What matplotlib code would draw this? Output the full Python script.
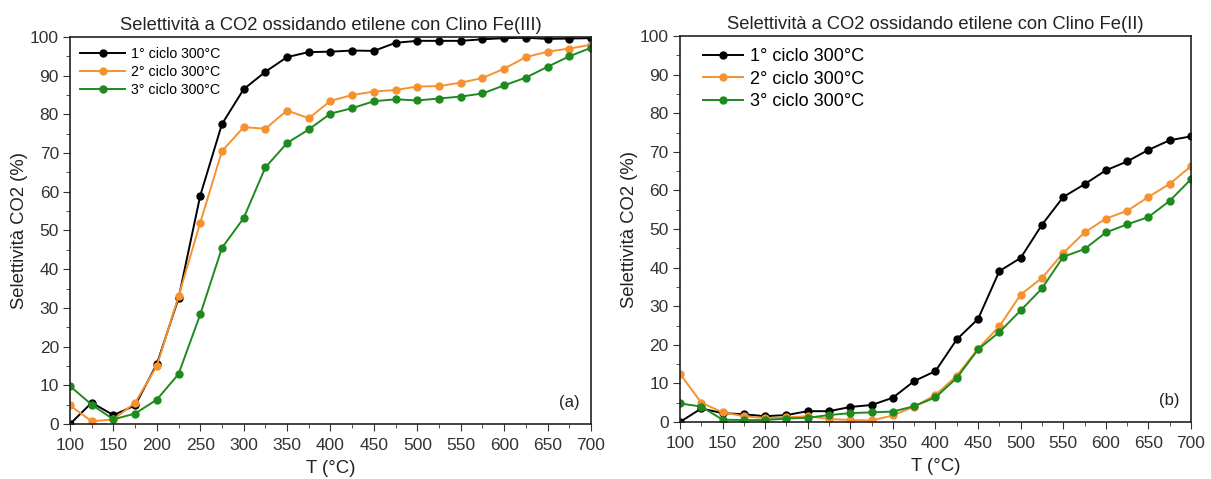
import numpy as np
import matplotlib
matplotlib.use("Agg")
import matplotlib.pyplot as plt
from matplotlib.ticker import MultipleLocator

plt.rcParams['font.family'] = ['Liberation Sans', 'DejaVu Sans']

# temperatures (°C)
temp = list(range(100, 701, 25))

# panel (a) - Clino Fe(III)
a_ciclo1 = [0, 5.5, 2.3, 4.8, 15.5, 32.5, 59, 77.5, 86.5, 91, 94.8, 96.1, 96.2,
            96.5, 96.4, 98.5, 99, 99, 99, 99.4, 99.7, 99.8, 99.5, 99.6, 99.7]
a_ciclo2 = [4.8, 0.7, 1.2, 5.5, 15, 33, 52, 70.5, 76.7, 76.3, 81, 79, 83.5,
            85, 85.9, 86.3, 87.2, 87.3, 88.2, 89.4, 91.8, 94.8, 96.2, 97, 98]
a_ciclo3 = [9.8, 5, 1.2, 2.7, 6.3, 12.9, 28.3, 45.5, 53.2, 66.3, 72.6, 76.1, 80.2,
            81.6, 83.4, 83.9, 83.6, 84.1, 84.6, 85.4, 87.5, 89.5, 92.3, 95, 97.2]

# panel (b) - Clino Fe(II)
b_ciclo1 = [0, 3.5, 2.3, 2.0, 1.5, 1.8, 2.8, 2.8, 3.9, 4.4, 6.3, 10.6, 13.2,
            21.4, 26.7, 39.1, 42.5, 51.1, 58.3, 61.6, 65.2, 67.5, 70.5, 73, 74]
b_ciclo2 = [12.5, 5, 2.5, 1.5, 1.0, 1.2, 1.5, 0.8, 0.5, 0.4, 1.7, 4, 7,
            12, 19, 24.8, 33, 37.3, 43.8, 49.1, 52.7, 54.7, 58.3, 61.7, 66.3]
b_ciclo3 = [4.8, 4, 0.6, 0.5, 0.5, 0.9, 1.1, 1.8, 2.3, 2.5, 2.7, 4.1, 6.4,
            11.4, 18.8, 23.3, 28.9, 34.6, 42.8, 44.8, 49.1, 51.2, 53.1, 57.3, 62.9]

labels = ["1° ciclo 300°C", "2° ciclo 300°C", "3° ciclo 300°C"]
colors = ["black", "#F5922F", "#1E8A1E"]

fig = plt.figure(figsize=(12.11, 4.79), dpi=100)
ax1 = fig.add_axes([0.0578, 0.1148, 0.4302, 0.808])
ax2 = fig.add_axes([0.5615, 0.119, 0.422, 0.8058])

# (axes, series, title, tag, legend font size, handle length, label spacing, pad, anchor)
panels = [
    (ax1, [a_ciclo1, a_ciclo2, a_ciclo3], "Selettività a CO2 ossidando etilene con Clino Fe(III)", "(a)",
     10.2, 3.2, 0.28, 0.3, (0, 1)),
    (ax2, [b_ciclo1, b_ciclo2, b_ciclo3], "Selettività a CO2 ossidando etilene con Clino Fe(II)", "(b)",
     13, 2.2, 0.32, 0.9, (0, 1.03)),
]

for ax, series, title, tag, legsize, hl, ls, bap, anchor in panels:
    for s, lab, c in zip(series, labels, colors):
        ax.plot(temp, s, '-o', color=c, label=lab, markersize=5, linewidth=1.4)
    ax.set_xlim(100, 700)
    ax.set_ylim(0, 100)
    ax.xaxis.set_major_locator(MultipleLocator(50))
    ax.xaxis.set_minor_locator(MultipleLocator(25))
    ax.yaxis.set_major_locator(MultipleLocator(10))
    ax.yaxis.set_minor_locator(MultipleLocator(5))
    ax.tick_params(which='major', direction='out', length=5, labelsize=12.5,
                   colors='#333333', pad=3)
    ax.tick_params(axis='x', which='major', pad=5)
    ax.tick_params(which='minor', direction='out', length=3, colors='#333333')
    for sp in ax.spines.values():
        sp.set_linewidth(1.2)
        sp.set_color('#222222')
    ax.set_title(title, fontsize=13.2, color='#222222', pad=5)
    ax.set_xlabel("T (°C)", fontsize=13.4, color='#222222', labelpad=5)
    ax.set_ylabel("Selettività CO2 (%)", fontsize=13.3, color='#222222', labelpad=1)
    ax.text(0.978, 0.055, tag, transform=ax.transAxes, ha='right', va='center',
            fontsize=12, color='#222222')
    ax.legend(loc='upper left', bbox_to_anchor=anchor, frameon=False, fontsize=legsize,
              handlelength=hl, handletextpad=0.4, labelspacing=ls,
              borderaxespad=bap)

fig.savefig("out.png", dpi=100)
